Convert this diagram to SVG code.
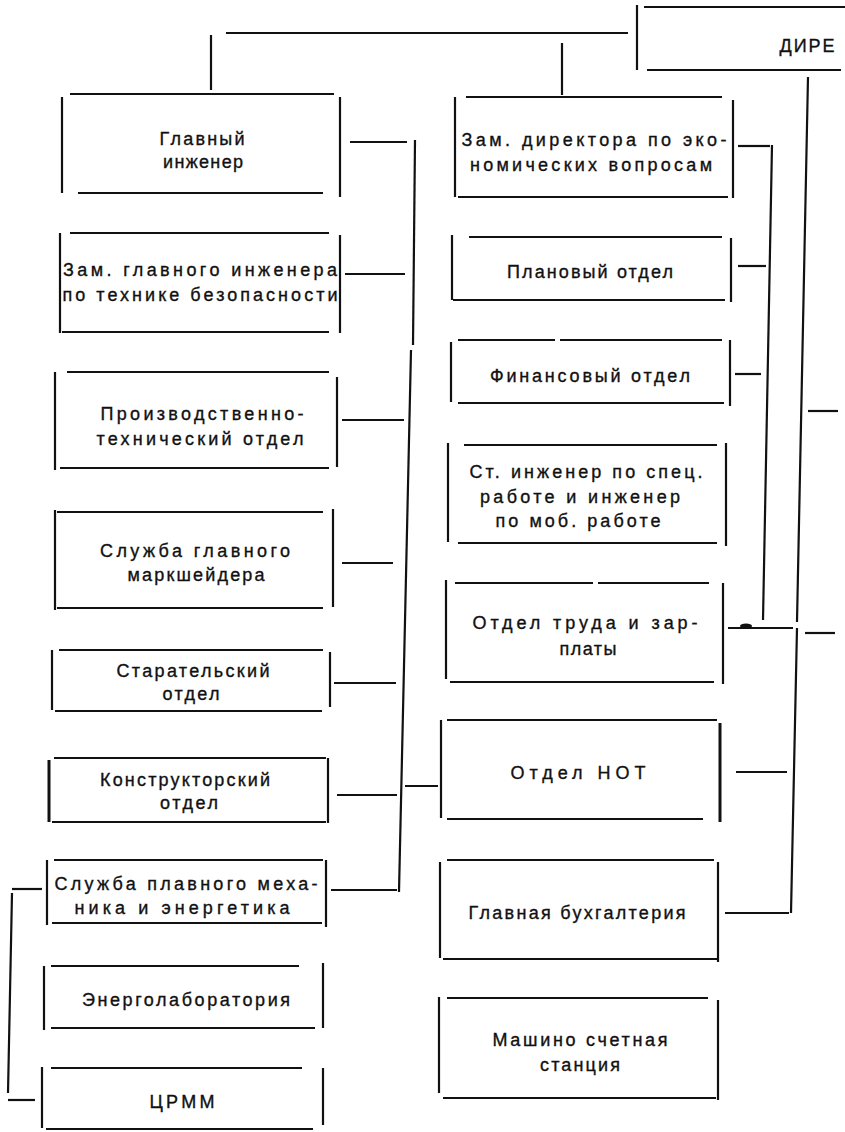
<svg xmlns="http://www.w3.org/2000/svg" width="845" height="1132" viewBox="0 0 845 1132">
<style>
line{stroke:#111;stroke-width:2.2;stroke-linecap:butt;fill:none}
.thk{stroke-width:3}
text{font-family:"Liberation Sans","DejaVu Sans",Arial,sans-serif;font-size:18px;fill:#111;stroke:#111;stroke-width:0.35;text-anchor:middle}
</style>
<rect width="845" height="1132" fill="#fff"/>
<g id="connectors">
<line x1="226" y1="33" x2="628" y2="33"/>
<line x1="211" y1="35" x2="211" y2="90"/>
<line x1="562" y1="43" x2="562" y2="95"/>
<line x1="415" y1="140" x2="413" y2="345"/>
<line x1="411" y1="350" x2="399" y2="892"/>
<line x1="350" y1="142" x2="407" y2="142"/>
<line x1="345" y1="274" x2="405" y2="274"/>
<line x1="342" y1="420" x2="404" y2="420"/>
<line x1="342" y1="563" x2="393" y2="563"/>
<line x1="334" y1="683" x2="396" y2="683"/>
<line x1="337" y1="795" x2="397" y2="795"/>
<line x1="331" y1="890" x2="397" y2="890"/>
<line x1="405" y1="786" x2="438" y2="786"/>
<line x1="772" y1="145" x2="763" y2="620"/>
<line x1="738" y1="146" x2="770" y2="146"/>
<line x1="738" y1="266" x2="766" y2="266"/>
<line x1="735" y1="374" x2="761" y2="374"/>
<line x1="808" y1="77" x2="797" y2="622"/>
<line x1="797" y1="628" x2="791" y2="913"/>
<line x1="728" y1="628" x2="793" y2="628"/>
<ellipse cx="746" cy="626" rx="6" ry="2.5" fill="#111"/>
<line x1="736" y1="772" x2="787" y2="772"/>
<line x1="725" y1="913" x2="789" y2="913"/>
<line x1="808" y1="411" x2="838" y2="411"/>
<line x1="805" y1="633" x2="835" y2="633"/>
<line x1="12" y1="893" x2="8" y2="1093"/>
<line x1="12" y1="889" x2="42" y2="889"/>
<line x1="8" y1="1100" x2="35" y2="1100"/>
</g>
<g id="director">
<line x1="637" y1="5" x2="637" y2="70"/>
<line x1="644" y1="7" x2="845" y2="7"/>
<line x1="647" y1="70" x2="841" y2="70"/>
<text x="807" y="52" textLength="55" lengthAdjust="spacing">ДИРЕ</text>
</g>
<g id="glavny-inzhener">
<line x1="62" y1="97" x2="62" y2="193"/>
<line x1="70" y1="94" x2="334" y2="94"/>
<line x1="78" y1="193" x2="323" y2="193"/>
<line x1="340" y1="97" x2="340" y2="197"/>
<text x="202" y="145" textLength="85" lengthAdjust="spacing">Главный</text>
<text x="203" y="168" textLength="80" lengthAdjust="spacing">инженер</text>
</g>
<g id="zam-glav-inzh">
<line x1="60" y1="233" x2="60" y2="333"/>
<line x1="70" y1="233" x2="329" y2="233"/>
<line x1="62" y1="332" x2="329" y2="332"/>
<line x1="340" y1="235" x2="340" y2="333"/>
<text x="200" y="276" textLength="274" lengthAdjust="spacing">Зам. главного инженера</text>
<text x="200" y="301" textLength="275" lengthAdjust="spacing">по технике безопасности</text>
</g>
<g id="pto">
<line x1="55" y1="372" x2="55" y2="470"/>
<line x1="67" y1="372" x2="329" y2="372"/>
<line x1="60" y1="468" x2="329" y2="468"/>
<line x1="337" y1="377" x2="337" y2="467"/>
<text x="202" y="420" textLength="203" lengthAdjust="spacing">Производственно-</text>
<text x="200" y="445" textLength="207" lengthAdjust="spacing">технический отдел</text>
</g>
<g id="markshejder">
<line x1="55" y1="510" x2="55" y2="610"/>
<line x1="57" y1="512" x2="323" y2="512"/>
<line x1="57" y1="608" x2="323" y2="608"/>
<line x1="333" y1="509" x2="333" y2="607"/>
<text x="195" y="557" textLength="190" lengthAdjust="spacing">Служба главного</text>
<text x="196" y="581" textLength="137" lengthAdjust="spacing">маркшейдера</text>
</g>
<g id="staratelsky">
<line x1="52" y1="650" x2="52" y2="710"/>
<line x1="59" y1="650" x2="323" y2="650"/>
<line x1="55" y1="711" x2="322" y2="711"/>
<line x1="330" y1="652" x2="330" y2="707"/>
<text x="193" y="677" textLength="153" lengthAdjust="spacing">Старательский</text>
<text x="191" y="700" textLength="57" lengthAdjust="spacing">отдел</text>
</g>
<g id="konstruktorsky">
<line class="thk" x1="49" y1="760" x2="49" y2="822"/>
<line x1="54" y1="758" x2="326" y2="758"/>
<line x1="52" y1="822" x2="326" y2="822"/>
<line x1="328" y1="758" x2="328" y2="823"/>
<text x="185" y="786" textLength="170" lengthAdjust="spacing">Конструкторский</text>
<text x="189" y="809" textLength="58" lengthAdjust="spacing">отдел</text>
</g>
<g id="sluzhba-meh">
<line x1="47" y1="860" x2="47" y2="925"/>
<line x1="54" y1="860" x2="323" y2="860"/>
<line x1="52" y1="923" x2="322" y2="923"/>
<line x1="326" y1="860" x2="326" y2="927"/>
<text x="186" y="890" textLength="263" lengthAdjust="spacing">Служба плавного меха-</text>
<text x="182" y="914" textLength="215" lengthAdjust="spacing">ника и энергетика</text>
</g>
<g id="energolab">
<line x1="44" y1="966" x2="44" y2="1030"/>
<line x1="51" y1="966" x2="299" y2="966"/>
<line x1="51" y1="1028" x2="315" y2="1028"/>
<line x1="323" y1="963" x2="323" y2="1028"/>
<text x="186" y="1006" textLength="208" lengthAdjust="spacing">Энерголаборатория</text>
</g>
<g id="crmm">
<line x1="42" y1="1067" x2="42" y2="1128"/>
<line x1="51" y1="1068" x2="302" y2="1068"/>
<line x1="46" y1="1129" x2="313" y2="1129"/>
<line x1="323" y1="1068" x2="323" y2="1125"/>
<text x="182" y="1108" textLength="65" lengthAdjust="spacing">ЦРММ</text>
</g>
<g id="zam-dir">
<line x1="455" y1="97" x2="455" y2="197"/>
<line x1="466" y1="97" x2="722" y2="97"/>
<line x1="458" y1="197" x2="728" y2="197"/>
<line x1="733" y1="100" x2="733" y2="198"/>
<text x="594" y="146" textLength="265" lengthAdjust="spacing">Зам. директора по эко-</text>
<text x="591" y="171" textLength="242" lengthAdjust="spacing">номических вопросам</text>
</g>
<g id="planovy">
<line x1="452" y1="235" x2="452" y2="300"/>
<line x1="469" y1="237" x2="722" y2="237"/>
<line x1="453" y1="300" x2="725" y2="300"/>
<line x1="731" y1="238" x2="731" y2="302"/>
<text x="590" y="278" textLength="166" lengthAdjust="spacing">Плановый отдел</text>
</g>
<g id="finansovy">
<line x1="451" y1="342" x2="451" y2="402"/>
<line x1="458" y1="340" x2="555" y2="340"/>
<line x1="560" y1="340" x2="722" y2="340"/>
<line x1="458" y1="403" x2="724" y2="403"/>
<line x1="730" y1="340" x2="730" y2="406"/>
<text x="590" y="382" textLength="200" lengthAdjust="spacing">Финансовый отдел</text>
</g>
<g id="st-inzhener">
<line x1="448" y1="443" x2="448" y2="542"/>
<line x1="464" y1="445" x2="717" y2="445"/>
<line x1="458" y1="543" x2="717" y2="543"/>
<line x1="726" y1="443" x2="726" y2="546"/>
<text x="586" y="478" textLength="233" lengthAdjust="spacing">Ст. инженер по спец.</text>
<text x="580" y="503" textLength="200" lengthAdjust="spacing">работе и инженер</text>
<text x="578" y="527" textLength="165" lengthAdjust="spacing">по моб. работе</text>
</g>
<g id="otdel-truda">
<line x1="446" y1="580" x2="446" y2="679"/>
<line x1="455" y1="583" x2="593" y2="583"/>
<line x1="598" y1="583" x2="709" y2="583"/>
<line x1="450" y1="682" x2="714" y2="682"/>
<line x1="723" y1="583" x2="723" y2="684"/>
<text x="585" y="629" textLength="225" lengthAdjust="spacing">Отдел труда и зар-</text>
<text x="588" y="655" textLength="57" lengthAdjust="spacing">платы</text>
</g>
<g id="otdel-not">
<line x1="441" y1="720" x2="441" y2="818"/>
<line x1="447" y1="720" x2="717" y2="720"/>
<line x1="447" y1="819" x2="703" y2="819"/>
<line class="thk" x1="720" y1="723" x2="720" y2="822"/>
<text x="578" y="779" textLength="135" lengthAdjust="spacing">Отдел НОТ</text>
</g>
<g id="glav-buh">
<line x1="440" y1="862" x2="440" y2="958"/>
<line x1="447" y1="860" x2="714" y2="860"/>
<line x1="443" y1="959" x2="718" y2="959"/>
<line x1="718" y1="862" x2="718" y2="962"/>
<text x="577" y="919" textLength="217" lengthAdjust="spacing">Главная бухгалтерия</text>
</g>
<g id="mashino-schetnaya">
<line x1="439" y1="997" x2="439" y2="1093"/>
<line x1="447" y1="998" x2="708" y2="998"/>
<line x1="443" y1="1098" x2="716" y2="1098"/>
<line x1="718" y1="1000" x2="718" y2="1100"/>
<text x="580" y="1046" textLength="175" lengthAdjust="spacing">Машино счетная</text>
<text x="580" y="1071" textLength="80" lengthAdjust="spacing">станция</text>
</g>
</svg>
